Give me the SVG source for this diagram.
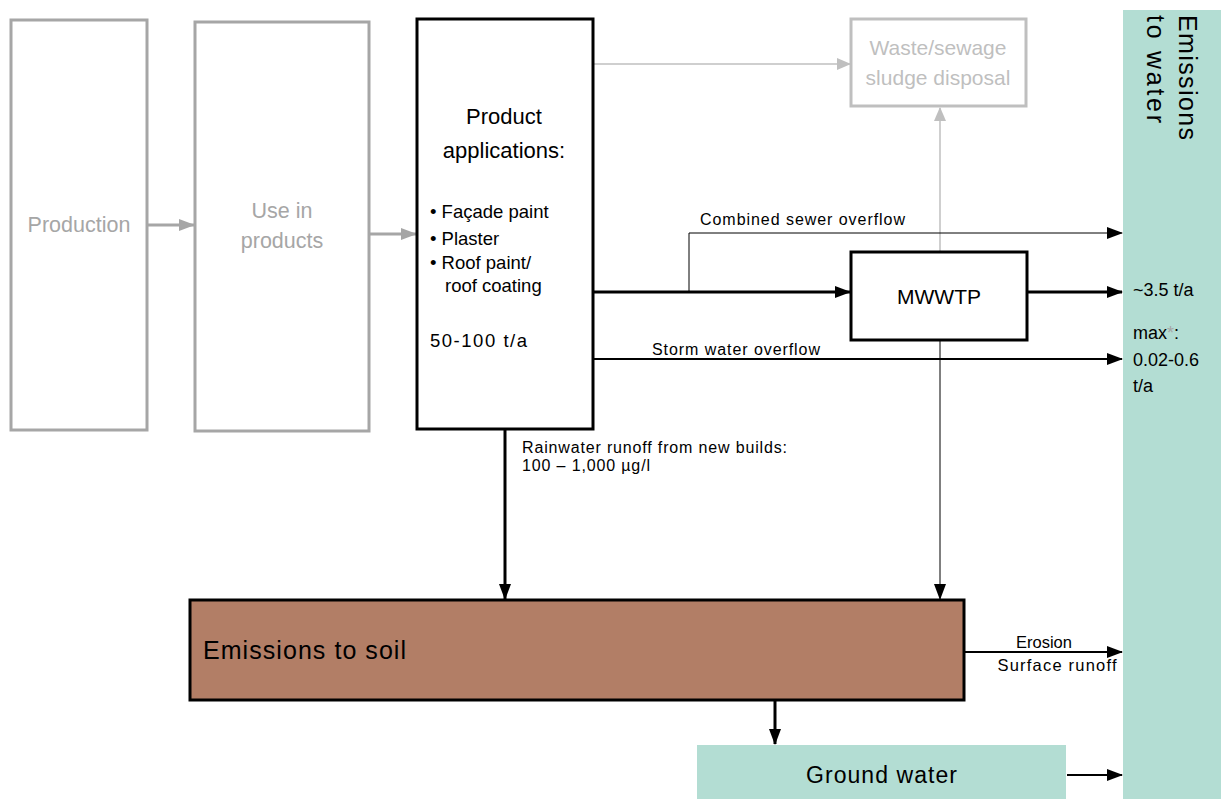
<svg xmlns="http://www.w3.org/2000/svg" width="1221" height="799" viewBox="0 0 1221 799">
<defs>
<style>
text{font-family:"Liberation Sans",Arial,sans-serif;}
.gbox{fill:#fff;stroke:#a6a6a6;stroke-width:3;}
.lbox{fill:#fff;stroke:#bfbfbf;stroke-width:3;}
.bbox{fill:#fff;stroke:#000;stroke-width:3;}
.gt{fill:#a6a6a6;font-size:21.5px;}
.lt{fill:#bfbfbf;font-size:21px;}
.bt{fill:#000;}
.thick{stroke:#000;stroke-width:3;fill:none;}
.med{stroke:#000;stroke-width:2;fill:none;}
.thin{stroke:#000;stroke-width:1;fill:none;}
</style>
<marker id="ab" markerUnits="userSpaceOnUse" markerWidth="16" markerHeight="12" refX="15" refY="6" orient="auto"><path d="M0,0 L16,6 L0,12 z" fill="#000"/></marker>
<marker id="ag" markerUnits="userSpaceOnUse" markerWidth="16" markerHeight="12" refX="15" refY="6" orient="auto"><path d="M0,0 L16,6 L0,12 z" fill="#a6a6a6"/></marker>
<marker id="al" markerUnits="userSpaceOnUse" markerWidth="14" markerHeight="12" refX="13" refY="6" orient="auto"><path d="M0,0 L14,6 L0,12 z" fill="#bfbfbf"/></marker>
</defs>
<rect width="1221" height="799" fill="#fff"/>

<g id="emissions-water">
<rect x="1123" y="10" width="98" height="789" fill="#b3ddd3"/>
<text transform="translate(1179,15) rotate(90)" font-size="25" textLength="125" fill="#000">Emissions</text>
<text transform="translate(1147,15) rotate(90)" font-size="25" textLength="108" fill="#000">to water</text>
</g>

<g id="connectors">
<line x1="148" y1="225" x2="194" y2="225" stroke="#a6a6a6" stroke-width="3" marker-end="url(#ag)"/>
<line x1="370" y1="234" x2="416" y2="234" stroke="#a6a6a6" stroke-width="3" marker-end="url(#ag)"/>
<line x1="594" y1="64" x2="850" y2="64" stroke="#bfbfbf" stroke-width="1.5" marker-end="url(#al)"/>
<line x1="940" y1="251" x2="940" y2="108" stroke="#bfbfbf" stroke-width="1.5" marker-end="url(#al)"/>
<line class="thick" x1="594" y1="292" x2="850" y2="292" marker-end="url(#ab)"/>
<polyline class="thin" points="689,292 689,233 1122,233" marker-end="url(#ab)"/>
<line class="thick" x1="1028" y1="292" x2="1122" y2="292" marker-end="url(#ab)"/>
<line class="med" x1="594" y1="359" x2="1122" y2="359" marker-end="url(#ab)"/>
<line class="thin" x1="940" y1="341" x2="940" y2="599" marker-end="url(#ab)"/>
<line class="thick" x1="505" y1="430" x2="505" y2="599" marker-end="url(#ab)"/>
<line class="med" x1="965" y1="652" x2="1122" y2="652" marker-end="url(#ab)"/>
<line class="thick" x1="775" y1="701" x2="775" y2="744" marker-end="url(#ab)"/>
<line class="med" x1="1067" y1="775" x2="1122" y2="775" marker-end="url(#ab)"/>
<text x="700" y="225" font-size="16" textLength="205" class="bt">Combined sewer overflow</text>
<text x="652" y="355" font-size="16" textLength="168" class="bt">Storm water overflow</text>
<text x="522" y="453" font-size="16" textLength="265" class="bt">Rainwater runoff from new builds:</text>
<text x="522" y="471" font-size="16" textLength="128" class="bt">100 – 1,000 µg/l</text>
<text x="1044" y="648" font-size="16.5" text-anchor="middle" class="bt">Erosion</text>
<text x="1057" y="671" font-size="16.5" text-anchor="middle" textLength="119" class="bt">Surface runoff</text>
<text x="1133" y="296" font-size="18" class="bt">~3.5 t/a</text>
<text x="1133" y="339" font-size="18" class="bt">max<tspan fill="#a6a6a6">*</tspan>:</text>
<text x="1133" y="366" font-size="18" class="bt">0.02-0.6</text>
<text x="1133" y="392" font-size="18" class="bt">t/a</text>
</g>

<g id="production">
<rect class="gbox" x="11" y="20" width="136" height="410"/>
<text x="79" y="232" text-anchor="middle" class="gt">Production</text>
</g>

<g id="use-in-products">
<rect class="gbox" x="195" y="22" width="174" height="409"/>
<text x="282" y="218" text-anchor="middle" class="gt">Use in</text>
<text x="282" y="248" text-anchor="middle" class="gt">products</text>
</g>

<g id="product-applications">
<rect class="bbox" x="417" y="19" width="176" height="410"/>
<text x="504" y="124" text-anchor="middle" font-size="22" class="bt">Product</text>
<text x="504" y="158" text-anchor="middle" font-size="22" class="bt">applications:</text>
<text x="430" y="218" font-size="18.5" class="bt">• Façade paint</text>
<text x="430" y="245" font-size="18.5" class="bt">• Plaster</text>
<text x="430" y="269" font-size="18.5" class="bt">• Roof paint/</text>
<text x="445" y="292" font-size="18.5" class="bt">roof coating</text>
<text x="430" y="347" font-size="18.5" textLength="97" class="bt">50-100 t/a</text>
</g>

<g id="waste-disposal">
<rect class="lbox" x="851" y="19" width="175" height="87"/>
<text x="938" y="55" text-anchor="middle" class="lt">Waste/sewage</text>
<text x="938" y="85" text-anchor="middle" class="lt">sludge disposal</text>
</g>

<g id="mwwtp">
<rect class="bbox" x="851" y="252" width="176" height="88"/>
<text x="939" y="304" text-anchor="middle" font-size="21" class="bt">MWWTP</text>
</g>

<g id="emissions-soil">
<rect x="190" y="600" width="774" height="100" fill="#b27e66" stroke="#000" stroke-width="3"/>
<text x="203" y="659" font-size="25" textLength="203" class="bt">Emissions to soil</text>
</g>

<g id="ground-water">
<rect x="697" y="745" width="369" height="54" fill="#b3ddd3"/>
<text x="806" y="783" font-size="23" textLength="151" class="bt">Ground water</text>
</g>
</svg>
